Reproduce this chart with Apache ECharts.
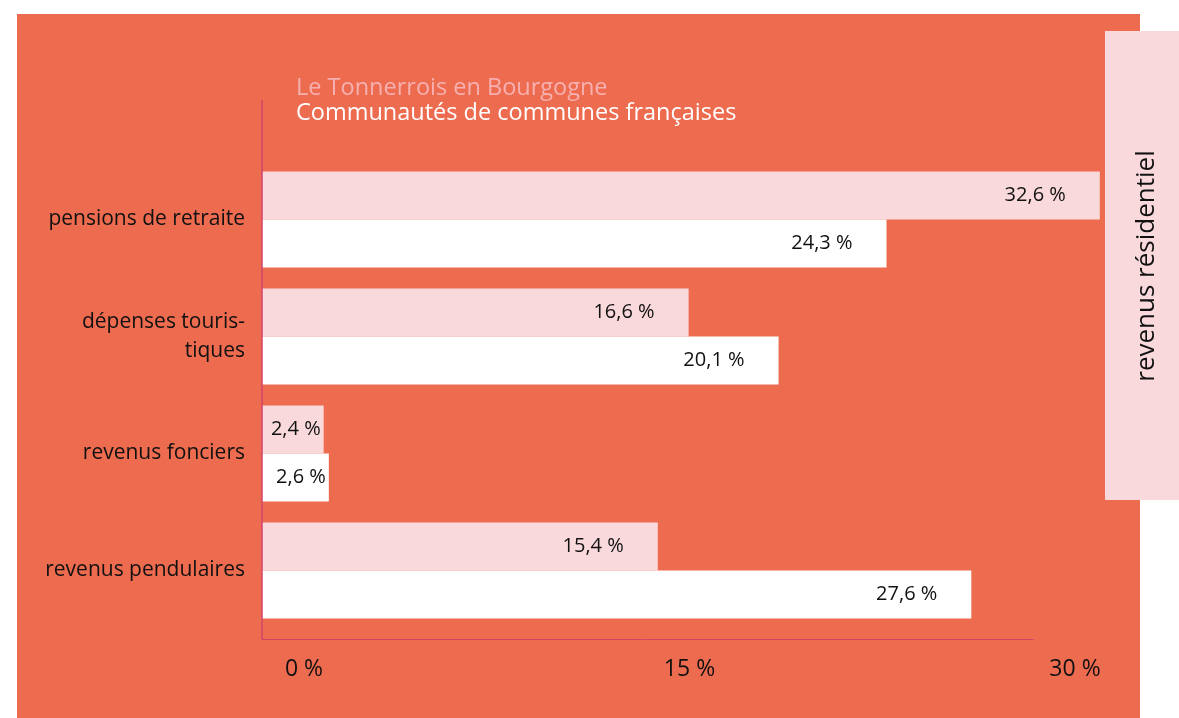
<!DOCTYPE html>
<html>
<head>
<meta charset="utf-8">
<script src="https://cdn.jsdelivr.net/npm/echarts@6/dist/echarts.min.js"></script>
<style>
  html, body { margin: 0; padding: 0; background: #fff; }
  #chart { width: 1179px; height: 718px; }
</style>
</head>
<body>
<div id="chart"></div>
<script>
// données
var categories = ['pensions de retraite', 'dépenses touris-\ntiques', 'revenus fonciers', 'revenus pendulaires'];
var tonnerrois = [32.6, 16.6, 2.4, 15.4];
var communautes = [24.3, 20.1, 2.6, 27.6];
var xTicks = [0, 15, 30];

var FONT = 'Open Sans';
var ORANGE = '#ed6b4f';
var PINK = '#f9d9db';
var LINE = '#d4436a';

function pct(v) {
  return String(v).replace('.', ',') + ' %';
}

// petites barres : étiquette collée au bout
function barData(values) {
  return values.map(function (v) {
    return v < 5 ? { value: v, label: { distance: 3 } } : v;
  });
}

var chart = echarts.init(document.getElementById('chart'));

var barLabel = {
  show: true, position: 'insideRight', distance: 34,
  fontSize: 20, color: '#111',
  formatter: function (p) { return pct(p.value); }
};

var option = {
  backgroundColor: '#fff',
  animation: false,
  textStyle: { fontFamily: FONT },
  grid: { left: 262, top: 161, width: 771, height: 468 },
  graphic: [
    { type: 'rect', z: -10, shape: { x: 17, y: 14, width: 1123, height: 710 }, style: { fill: ORANGE } },
    { type: 'line', z: 10, shape: { x1: 262, y1: 100, x2: 262, y2: 639 }, style: { stroke: LINE, lineWidth: 1.5 } },
    { type: 'rect', shape: { x: 1105, y: 31, width: 74, height: 469 }, style: { fill: PINK } },
    {
      type: 'text', x: 1147, y: 266, rotation: Math.PI / 2,
      style: { text: 'revenus résidentiel', font: '26px ' + FONT, fill: '#111', align: 'center', verticalAlign: 'middle' }
    },
    {
      type: 'text', left: 296, top: 76,
      style: { text: 'Le Tonnerrois en Bourgogne', font: '23.5px ' + FONT, fill: '#f7b0b0' }
    },
    {
      type: 'text', left: 296, top: 101,
      style: { text: 'Communautés de communes françaises', font: '23.5px ' + FONT, fill: '#fff' }
    }
  ],
  xAxis: {
    type: 'value',
    min: 0,
    max: 30,
    interval: 15,
    offset: 10,
    splitLine: { show: false },
    axisTick: { show: false },
    axisLine: { show: true, lineStyle: { color: LINE, width: 1 } },
    axisLabel: {
      fontSize: 23,
      color: '#111',
      margin: 19,
      padding: [0, 0, 0, 84],
      formatter: function (v) { return xTicks.indexOf(v) >= 0 ? v + ' %' : ''; }
    }
  },
  yAxis: {
    type: 'category',
    inverse: true,
    data: categories,
    axisLine: { show: false },
    axisTick: { show: false },
    axisLabel: { fontSize: 21, color: '#111', margin: 17, align: 'right', lineHeight: 29 }
  },
  series: [
    {
      name: 'Le Tonnerrois en Bourgogne',
      type: 'bar',
      clip: false,
      data: barData(tonnerrois),
      barWidth: 48,
      barGap: '0%',
      itemStyle: { color: PINK },
      label: barLabel
    },
    {
      name: 'Communautés de communes françaises',
      type: 'bar',
      clip: false,
      data: barData(communautes),
      barWidth: 48,
      barGap: '0%',
      itemStyle: { color: '#fff' },
      label: barLabel
    }
  ]
};

chart.setOption(option);
</script>
</body>
</html>
